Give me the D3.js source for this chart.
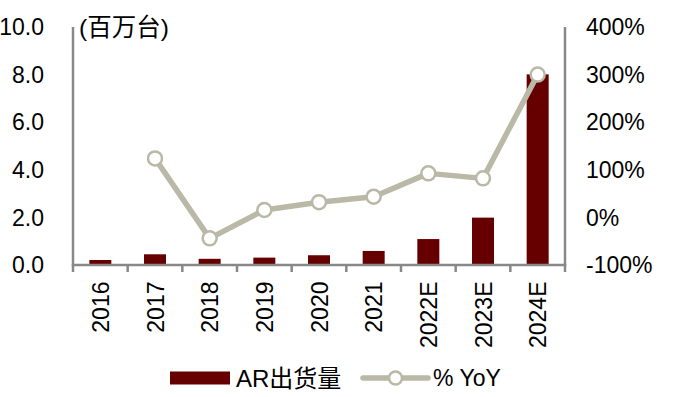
<!DOCTYPE html>
<html><head><meta charset="utf-8">
<script src="https://cdn.jsdelivr.net/npm/d3@7"></script>
<style>body{margin:0;background:#fff}svg{display:block}text{font-family:"Liberation Sans",Arial,"Noto Sans CJK SC",sans-serif;fill:#000}</style>
</head><body><svg id="c" width="676" height="397"></svg>
<script>
const categories = ["2016","2017","2018","2019","2020","2021","2022E","2023E","2024E"];
const shipments = [0.21,0.45,0.26,0.31,0.41,0.59,1.09,1.99,8.01];
const yoy = [null,1.24,-0.44,0.155,0.32,0.435,0.925,0.82,3.0];
const leftTicks = [0,2,4,6,8,10];
const rightTicks = [-1,0,1,2,3,4];
const unitLabel = "(百万台)";
const seriesNames = ["AR出货量","% YoY"];

const svg = d3.select("#c");
const L = 73, R = 565, T = 27, B = 265;
const barColor = "#660000", lineColor = "#BAB8A6", axisColor = "#888888";
const x = d3.scaleBand().domain(categories).range([L,R]).paddingInner(0).paddingOuter(0);
const yL = d3.scaleLinear().domain([0,10]).range([B,T]);
const yR = d3.scaleLinear().domain([-1,4]).range([B,T]);
const fs = 23;

// bars
const bw = 22;
svg.append("g").selectAll("rect").data(categories).join("rect")
  .attr("x", d => x(d) + x.bandwidth()/2 - bw/2)
  .attr("width", bw)
  .attr("y", (d,i) => yL(shipments[i]))
  .attr("height", (d,i) => B - yL(shipments[i]))
  .attr("fill", barColor);

// axes lines
const ax = svg.append("g").attr("stroke", axisColor).attr("stroke-width", 2.5);
ax.append("line").attr("x1", L).attr("x2", L).attr("y1", T).attr("y2", B);
ax.append("line").attr("x1", R).attr("x2", R).attr("y1", T).attr("y2", B);
ax.append("line").attr("x1", L-1.25).attr("x2", R+1.25).attr("y1", B).attr("y2", B);
const bounds = categories.map(c => x(c)).concat([R]);
ax.selectAll("line.tk").data(bounds).join("line").attr("class","tk")
  .attr("x1", d => d).attr("x2", d => d).attr("y1", B).attr("y2", B+7);

// x labels
svg.append("g").selectAll("text").data(categories).join("text")
  .attr("transform", d => `translate(${x(d)+x.bandwidth()/2 + 8.8},${B+16.5}) rotate(-90)`)
  .attr("text-anchor","end").attr("font-size", fs).text(d => d);

// left tick labels
const fmtL = d3.format(".1f");
svg.append("g").selectAll("text").data(leftTicks).join("text")
  .attr("x", 44).attr("y", d => yL(d)).attr("dy","0.36em")
  .attr("text-anchor","end").attr("font-size", fs).text(d => fmtL(d));
// right tick labels
const fmtR = v => Math.round(v*100) + "%";
svg.append("g").selectAll("text").data(rightTicks).join("text")
  .attr("x", 586).attr("y", d => yR(d)).attr("dy","0.36em")
  .attr("text-anchor","start").attr("font-size", fs).text(d => fmtR(d));
svg.append("text").attr("x", 79).attr("y", T).attr("dy","0.36em").attr("font-size", 24.5).text(unitLabel);

// line
const pts = categories.map((c,i) => ({c, v: yoy[i]})).filter(d => d.v !== null);
const line = d3.line().x(d => x(d.c)+x.bandwidth()/2).y(d => yR(d.v));
svg.append("path").datum(pts).attr("d", line).attr("fill","none")
  .attr("stroke", lineColor).attr("stroke-width", 5.5).attr("stroke-linejoin","round");
svg.append("g").selectAll("circle").data(pts).join("circle")
  .attr("cx", d => x(d.c)+x.bandwidth()/2).attr("cy", d => yR(d.v)).attr("r", 7)
  .attr("fill","#fff").attr("stroke", lineColor).attr("stroke-width", 2.5);

// legend
const lg = svg.append("g");
lg.append("rect").attr("x",170).attr("y",371.5).attr("width",60).attr("height",13).attr("fill",barColor);
lg.append("text").attr("x",236).attr("y",378).attr("dy","0.36em").attr("font-size", 24).text(seriesNames[0]);
lg.append("line").attr("x1",363).attr("x2",428).attr("y1",378).attr("y2",378).attr("stroke",lineColor).attr("stroke-width",5.5).attr("stroke-linecap","round");
lg.append("circle").attr("cx",395.5).attr("cy",378).attr("r",6.5).attr("fill","#fff").attr("stroke",lineColor).attr("stroke-width",2.5);
lg.append("text").attr("x",433).attr("y",378).attr("dy","0.36em").attr("font-size", fs).text(seriesNames[1]);
</script></body></html>
